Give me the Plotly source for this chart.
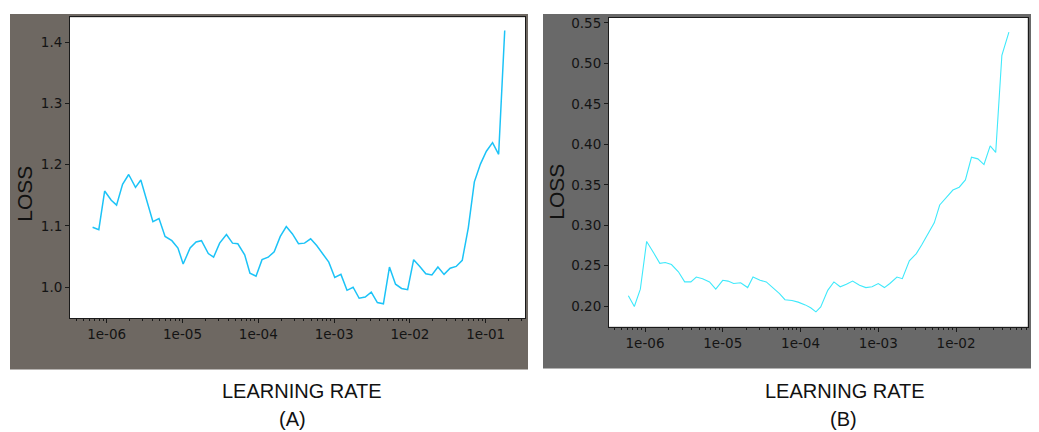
import plotly.graph_objects as go

# ---------------- data ----------------
lr_a = [6.52e-7, 7.87e-7, 9.40e-7, 1.15e-6, 1.35e-6, 1.62e-6, 1.95e-6, 2.40e-6, 2.82e-6, 3.39e-6,
        4.07e-6, 4.90e-6, 5.89e-6, 7.24e-6, 8.71e-6, 1.02e-5, 1.26e-5, 1.51e-5, 1.78e-5, 2.19e-5,
        2.57e-5, 3.09e-5, 3.80e-5, 4.57e-5, 5.37e-5, 6.61e-5, 7.76e-5, 9.33e-5, 1.12e-4, 1.35e-4,
        1.62e-4, 1.95e-4, 2.34e-4, 2.82e-4, 3.39e-4, 4.07e-4, 4.90e-4, 5.89e-4, 7.08e-4, 8.51e-4,
        1.02e-3, 1.23e-3, 1.48e-3, 1.78e-3, 2.14e-3, 2.57e-3, 3.09e-3, 3.72e-3, 4.47e-3, 5.37e-3,
        6.46e-3, 7.76e-3, 9.33e-3, 1.12e-2, 1.35e-2, 1.62e-2, 1.95e-2, 2.34e-2, 2.82e-2, 3.39e-2,
        4.07e-2, 4.90e-2, 5.89e-2, 7.08e-2, 8.51e-2, 0.102, 0.123, 0.148, 0.178]
loss_a = [1.098, 1.094, 1.157, 1.142, 1.134, 1.168, 1.184, 1.163, 1.175, 1.141,
          1.107, 1.112, 1.083, 1.076, 1.064, 1.038, 1.064, 1.074, 1.076, 1.055,
          1.049, 1.072, 1.086, 1.072, 1.071, 1.053, 1.023, 1.018, 1.045, 1.049,
          1.058, 1.083, 1.099, 1.087, 1.071, 1.072, 1.079, 1.068, 1.055, 1.041,
          1.016, 1.021, 0.995, 1.000, 0.982, 0.984, 0.992, 0.975, 0.973, 1.033,
          1.005, 0.998, 0.996, 1.045, 1.034, 1.022, 1.020, 1.033, 1.021, 1.031,
          1.034, 1.044, 1.097, 1.172, 1.201, 1.222, 1.236, 1.217, 1.419]

lr_b = [6.11e-7, 7.29e-7, 8.71e-7, 1.05e-6, 1.29e-6, 1.55e-6, 1.82e-6, 2.19e-6, 2.69e-6, 3.24e-6,
        3.89e-6, 4.57e-6, 5.50e-6, 6.76e-6, 8.13e-6, 1.00e-5, 1.17e-5, 1.38e-5, 1.70e-5, 2.09e-5,
        2.45e-5, 3.02e-5, 3.63e-5, 4.37e-5, 5.37e-5, 6.31e-5, 7.76e-5, 9.33e-5, 1.15e-4, 1.35e-4,
        1.58e-4, 1.82e-4, 2.24e-4, 2.69e-4, 3.24e-4, 3.89e-4, 4.68e-4, 5.75e-4, 6.92e-4, 8.32e-4,
        1.00e-3, 1.20e-3, 1.41e-3, 1.74e-3, 2.04e-3, 2.51e-3, 3.09e-3, 3.63e-3, 4.37e-3, 5.25e-3,
        6.17e-3, 7.59e-3, 9.12e-3, 1.10e-2, 1.32e-2, 1.58e-2, 1.91e-2, 2.29e-2, 2.75e-2, 3.24e-2,
        3.89e-2, 4.79e-2]
loss_b = [0.213, 0.1996, 0.221, 0.280, 0.266, 0.253, 0.254, 0.2515, 0.2425, 0.230,
          0.230, 0.236, 0.234, 0.230, 0.221, 0.232, 0.231, 0.228, 0.229, 0.223,
          0.236, 0.232, 0.230, 0.223, 0.2155, 0.208, 0.207, 0.205, 0.2016, 0.198,
          0.193, 0.199, 0.2196, 0.230, 0.224, 0.227, 0.231, 0.226, 0.223, 0.224,
          0.228, 0.223, 0.228, 0.236, 0.234, 0.256, 0.265, 0.276, 0.289, 0.303,
          0.325, 0.335, 0.3435, 0.347, 0.356, 0.384, 0.382, 0.375, 0.398, 0.390,
          0.510, 0.5385]

x_major_a = [1e-6, 1e-5, 1e-4, 1e-3, 1e-2, 1e-1]
x_major_labels_a = ["1e-06", "1e-05", "1e-04", "1e-03", "1e-02", "1e-01"]
x_major_b = [1e-6, 1e-5, 1e-4, 1e-3, 1e-2]
x_major_labels_b = ["1e-06", "1e-05", "1e-04", "1e-03", "1e-02"]
y_ticks_a = [1.0, 1.1, 1.2, 1.3, 1.4]
y_labels_a = ["1.0", "1.1", "1.2", "1.3", "1.4"]
y_ticks_b = [0.20, 0.25, 0.30, 0.35, 0.40, 0.45, 0.50, 0.55]
y_labels_b = ["0.20", "0.25", "0.30", "0.35", "0.40", "0.45", "0.50", "0.55"]
x_title = "LEARNING RATE"
y_title = "LOSS"
panel_labels = ["(A)", "(B)"]

# ---------------- layout helpers ----------------
# the page body keeps its default 8px margin, so the figure is 8px smaller
# than the window and all reference pixel positions are shifted by 8px.
OFF = 8
W, H = 1039 - OFF, 432 - OFF


def px(x):
    return (x - OFF) / W


def py(y):
    return (H - (y - OFF)) / H


minor_vals = [m * 10 ** e for e in range(-7, 1) for m in range(2, 10)]

tick_font = dict(family="DejaVu Sans", size=13.5, color="#141414")
axis_common = dict(showline=True, linecolor="#1a1a1a", linewidth=1, mirror=True,
                   ticks="outside", ticklen=4, tickcolor="#1a1a1a", tickwidth=1,
                   showgrid=False, zeroline=False, tickfont=tick_font)

fig = go.Figure()
fig.add_trace(go.Scatter(x=lr_a, y=loss_a, mode="lines", xaxis="x", yaxis="y",
                         line=dict(color="#1cc3f7", width=1.5), showlegend=False,
                         hoverinfo="x+y"))
fig.add_trace(go.Scatter(x=lr_b, y=loss_b, mode="lines", xaxis="x2", yaxis="y2",
                         line=dict(color="#3fe9fb", width=1.1), showlegend=False,
                         hoverinfo="x+y"))

minor_cfg = dict(tickmode="array", tickvals=minor_vals, ticks="outside", ticklen=2,
                 tickcolor="#1a1a1a", tickwidth=1, showgrid=False)

fig.update_layout(
    width=W, height=H,
    margin=dict(l=0, r=0, t=0, b=0),
    paper_bgcolor="white",
    plot_bgcolor="white",
    xaxis=dict(type="log", domain=[px(70), px(525)], anchor="y",
               range=[-6.484, -0.482], tickmode="array", tickvals=x_major_a,
               ticktext=x_major_labels_a, minor=minor_cfg, **axis_common),
    yaxis=dict(domain=[py(317.3), py(14.3)], anchor="x", range=[0.9496, 1.4407],
               tickmode="array", tickvals=y_ticks_a, ticktext=y_labels_a, **axis_common),
    xaxis2=dict(type="log", domain=[px(609), px(1027.7)], anchor="y2",
                range=[-6.463, -1.078], tickmode="array", tickvals=x_major_b,
                ticktext=x_major_labels_b, minor=minor_cfg, **axis_common),
    yaxis2=dict(domain=[py(326), py(15)], anchor="x2", range=[0.1746, 0.5561],
                tickmode="array", tickvals=y_ticks_b, ticktext=y_labels_b, **axis_common),
)

# grey screenshot frames behind each plot
fig.add_shape(type="rect", xref="paper", yref="paper", layer="below",
              x0=px(10), x1=px(528), y0=py(369), y1=py(11),
              fillcolor="#6e6862", line=dict(width=0))
fig.add_shape(type="rect", xref="paper", yref="paper", layer="below",
              x0=px(543), x1=1.0, y0=py(368), y1=py(11),
              fillcolor="#696969", line=dict(width=0))
# white plotting areas on top of the frames
for xr, yr in (("x domain", "y domain"), ("x2 domain", "y2 domain")):
    fig.add_shape(type="rect", xref=xr, yref=yr, layer="below",
                  x0=0, x1=1, y0=0, y1=1, fillcolor="white", line=dict(width=0))

label_font = dict(family="Liberation Sans", size=20, color="#111111")
loss_font = dict(family="Liberation Sans", size=21, color="#111111")
ann = [
    dict(text=y_title, x=px(25), y=py(192), textangle=-90, font=loss_font),
    dict(text=y_title, x=px(557), y=py(190), textangle=-90, font=loss_font),
    dict(text=x_title, x=px(302), y=py(391), font=label_font),
    dict(text=panel_labels[0], x=px(292), y=py(419), font=label_font),
    dict(text=x_title, x=px(845), y=py(391), font=label_font),
    dict(text=panel_labels[1], x=px(843), y=py(419), font=label_font),
]
for a in ann:
    fig.add_annotation(xref="paper", yref="paper", showarrow=False,
                       xanchor="center", yanchor="middle", **a)

fig.write_html("out.html")
